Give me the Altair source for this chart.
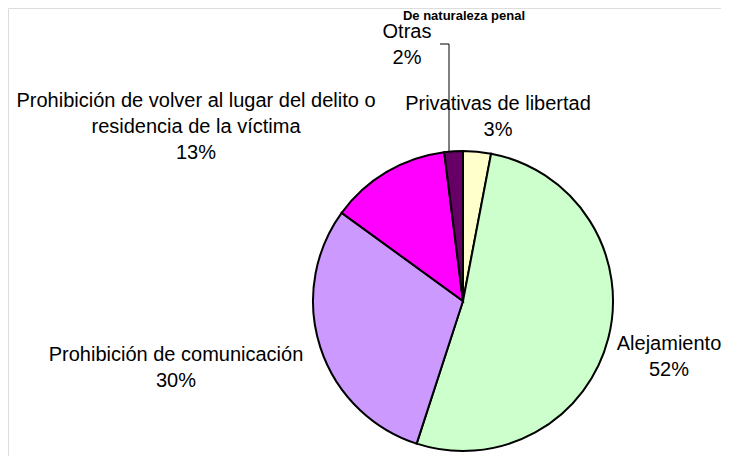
import altair as alt
import pandas as pd

categories = ["Privativas de libertad", "Alejamiento", "Prohibición de comunicación",
              "Prohibición de volver al lugar del delito o residencia de la víctima", "Otras"]
values = [3, 52, 30, 13, 2]
colors = ["#FFFFCC", "#CCFFCC", "#CC99FF", "#FF00FF", "#660066"]
label_lines = [
    ["Privativas de libertad", "3%"],
    ["Alejamiento", "52%"],
    ["Prohibición de comunicación", "30%"],
    ["Prohibición de volver al lugar del delito o", "residencia de la víctima", "13%"],
    ["Otras", "2%"],
]
title_text = "De naturaleza penal"

# layout (view coords = page coords - 8)
CX, CY, R = 455, 293, 150
label_pos = [(490, 109), (661, 349), (168, 360), (188, 119), (399, 37)]

df = pd.DataFrame({"cat": categories, "value": values, "ord": list(range(len(values)))})

W, H = 713, 448
FONT = "Liberation Sans"
FS = 20
LH = 26

pie = alt.Chart(df).mark_arc(stroke="black", strokeWidth=2).encode(
    theta=alt.Theta("value:Q", stack=True),
    order=alt.Order("ord:Q"),
    color=alt.Color("cat:N", scale=alt.Scale(domain=categories, range=colors), legend=None),
    x=alt.value(CX), y=alt.value(CY), radius=alt.value(R),
)

layers = [pie]
for lines, (lx, ly) in zip(label_lines, label_pos):
    n = len(lines)
    for i, t in enumerate(lines):
        yy = ly + (i - (n - 1) / 2) * LH
        layers.append(
            alt.Chart(pd.DataFrame({"t": [t]})).mark_text(
                font=FONT, fontSize=FS, color="black", align="center", baseline="middle"
            ).encode(text="t:N", x=alt.value(lx), y=alt.value(yy))
        )

layers.append(
    alt.Chart(pd.DataFrame({"t": [title_text]})).mark_text(
        font=FONT, fontSize=13, fontWeight="bold", color="black", align="center", baseline="middle"
    ).encode(text="t:N", x=alt.value(456), y=alt.value(7.5))
)

# leader line for "Otras"
layers.append(alt.Chart(pd.DataFrame({"a": [0]})).mark_rule(color="black", strokeWidth=1).encode(
    x=alt.value(432), x2=alt.value(441), y=alt.value(36), y2=alt.value(36)))
layers.append(alt.Chart(pd.DataFrame({"a": [0]})).mark_rule(color="black", strokeWidth=1).encode(
    x=alt.value(441), x2=alt.value(441), y=alt.value(36), y2=alt.value(143)))

chart = alt.layer(*layers).properties(
    width=W, height=H, padding=0, autosize=alt.AutoSizeParams(type="none")
).configure_view(stroke=None).configure(background="white")

chart.save("out.html", embed_options={"renderer": "svg", "actions": False})
